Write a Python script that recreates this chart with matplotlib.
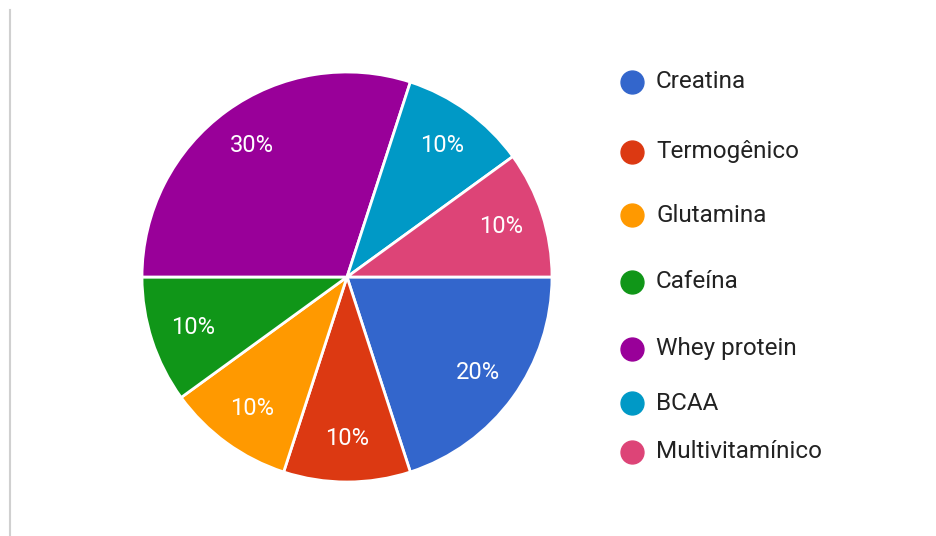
import matplotlib
matplotlib.use("Agg")
import matplotlib.pyplot as plt
from matplotlib.lines import Line2D

plt.rcParams['font.family'] = ['Roboto', 'DejaVu Sans']

# data
categories = ['Creatina', 'Termogênico', 'Glutamina', 'Cafeína',
              'Whey protein', 'BCAA', 'Multivitamínico']
shares = [20, 10, 10, 10, 30, 10, 10]
colors = ['#3366CC', '#DC3912', '#FF9900', '#109618',
          '#990099', '#0099C6', '#DD4477']

W, H = 936, 536
fig = plt.figure(figsize=(W / 100, H / 100), dpi=100)
fig.patch.set_facecolor('white')

# pie axes: centre (347, 277) px, radius 205 px
cx, cy, r = 347, 277, 205
ax = fig.add_axes([(cx - r) / W, (H - cy - r) / H, 2 * r / W, 2 * r / H])
wedges, texts, autotexts = ax.pie(
    shares, colors=colors, startangle=0, counterclock=False,
    autopct='%1.0f%%', pctdistance=0.79, radius=1.0,
    wedgeprops=dict(edgecolor='white', linewidth=2))
for t in autotexts:
    t.set_color('white')
    t.set_fontsize(17)
ax.set_xlim(-1.0, 1.0)
ax.set_ylim(-1.0, 1.0)
ax.set_aspect('equal')
ax.axis('off')

# legend, drawn by hand to keep the uneven row spacing of the original
legend_y = [82, 152, 215, 282, 349, 403, 452]
for name, col, y in zip(categories, colors, legend_y):
    fig.add_artist(Line2D([632 / W], [1 - y / H], marker='o', markersize=16.5,
                          color=col, linestyle='None'))
    fig.text(656 / W, 1 - y / H, name, fontsize=17.5, color='#222222',
             va='center', ha='left')

# thin grey border line on the left edge
fig.add_artist(Line2D([9.5 / W, 9.5 / W], [0, 1 - 10 / H],
                      color='#d0d0d0', linewidth=1.5))

fig.savefig('out.png', dpi=100, facecolor='white')
